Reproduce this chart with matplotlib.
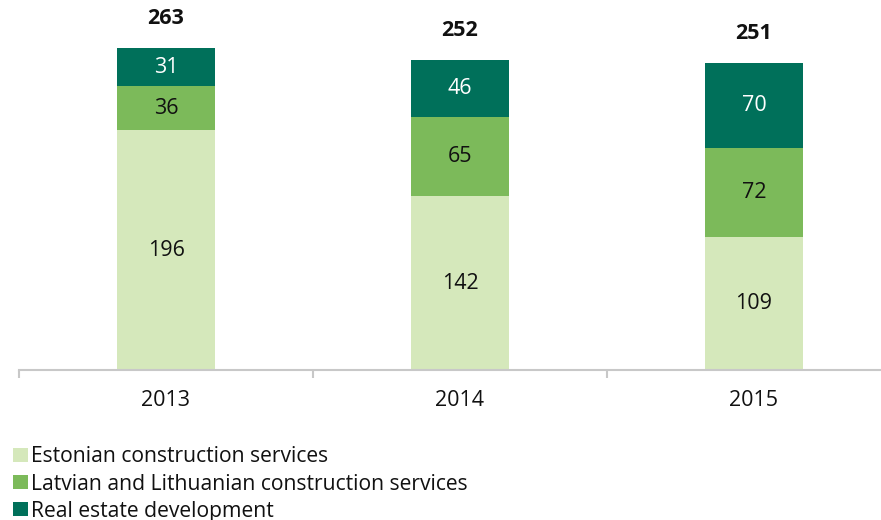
import matplotlib
matplotlib.use("Agg")
import matplotlib.pyplot as plt
from matplotlib.patches import Rectangle

years = ["2013", "2014", "2015"]
estonian = [196, 142, 109]
latvian_lithuanian = [36, 65, 72]
real_estate = [31, 46, 70]
totals = [263, 252, 251]
series_names = ["Estonian construction services",
                "Latvian and Lithuanian construction services",
                "Real estate development"]
colors = ["#d5e8bb", "#7cba5a", "#00705a"]
text_colors = ["#111111", "#111111", "#ffffff"]

plt.rcParams['font.family'] = ['Open Sans', 'DejaVu Sans']

W, H = 881, 520
fig = plt.figure(figsize=(W/100, H/100), dpi=100)
left_px, right_px = 19, 19 + 3*294
bottom_px, top_px = 370, 10
ax = fig.add_axes([left_px/W, (H-bottom_px)/H, (right_px-left_px)/W, (bottom_px-top_px)/H])
ax.set_xlim(-0.5, 2.5)
ymax = (bottom_px-top_px)/1.224
ax.set_ylim(0, ymax)

x = list(range(len(years)))
width = 0.333
bottoms = [0]*len(years)
for vals, c, tc in zip([estonian, latvian_lithuanian, real_estate], colors, text_colors):
    ax.bar(x, vals, width, bottom=bottoms, color=c, edgecolor='none', zorder=2)
    for xi, v, b in zip(x, vals, bottoms):
        ax.text(xi, b + v/2, str(v), ha='center', va='center', fontsize=15.5, color=tc, zorder=3)
    bottoms = [b + v for b, v in zip(bottoms, vals)]

for xi, t, b in zip(x, totals, bottoms):
    ax.text(xi, b + 24, str(t), ha='center', va='center', fontsize=15.5, fontweight='bold', color='#111111')

for s in ['top', 'right', 'left']:
    ax.spines[s].set_visible(False)
ax.spines['bottom'].set_color('#c8c8c8')
ax.spines['bottom'].set_linewidth(1.5)
ax.set_yticks([])
ax.set_xticks([-0.5, 0.5, 1.5, 2.5])
ax.set_xticklabels([])
ax.tick_params(axis='x', length=6, width=1.5, color='#c8c8c8')
for xi, yl in zip(x, years):
    ax.text(xi, -31/1.224, yl, ha='center', va='center', fontsize=15.5, color='#111111',
            clip_on=False)

# legend
leg_y = [455, 482, 509]
for yy, name, c in zip(leg_y, series_names, colors):
    fig.add_artist(Rectangle((13/W, (H-yy-7)/H), 15/W, 14/H, transform=fig.transFigure,
                             facecolor=c, edgecolor='none'))
    fig.text(31/W, (H-yy-2)/H, name, ha='left', va='center', fontsize=15.2, color='#111111')

fig.savefig("out.png", dpi=100)
